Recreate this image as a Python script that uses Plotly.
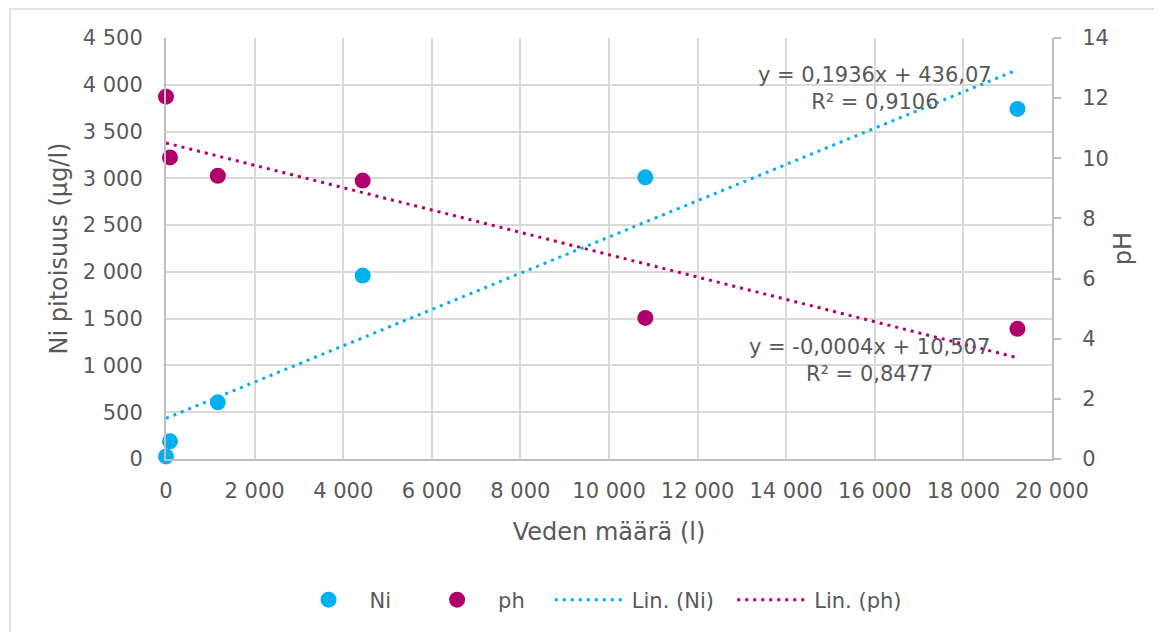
import numpy as np
import plotly.graph_objects as go

# ---- data ----
water_l = [0, 90, 1170, 4440, 10820, 19220]
ni_ug_l = [28, 189, 606, 1961, 3011, 3742]
ph_vals = [12.05, 10.03, 9.42, 9.26, 4.69, 4.33]

x_ticks = [0, 2000, 4000, 6000, 8000, 10000, 12000, 14000, 16000, 18000, 20000]
x_ticktext = ["0", "2 000", "4 000", "6 000", "8 000", "10 000", "12 000", "14 000", "16 000", "18 000", "20 000"]
y1_ticks = [0, 500, 1000, 1500, 2000, 2500, 3000, 3500, 4000, 4500]
y1_ticktext = ["0", "500", "1 000", "1 500", "2 000", "2 500", "3 000", "3 500", "4 000", "4 500"]
y2_ticks = [0, 2, 4, 6, 8, 10, 12, 14]

series_names = ["Ni", "ph", "Lin. (Ni)", "Lin. (ph)"]
ni_eq_text = "y = 0,1936x + 436,07<br>R² = 0,9106"
ph_eq_text = "y = -0,0004x + 10,507<br>R² = 0,8477"

# ---- styling ----
NI_COLOR = "#00B0F0"
PH_COLOR = "#B0006B"
TXT = "#595959"
GRID = "#D9D9D9"
AXL = "#BFBFBF"
FONT = "DejaVu Sans"
PAD3 = "\u00a0\u00a0\u00a0"  # extra spacing between legend entries
PAD2 = "\u00a0\u00a0"

# linear trendlines (least squares fit of the data)
xa = np.array(water_l, dtype=float)
ni_fit = np.polyfit(xa, np.array(ni_ug_l, dtype=float), 1)
ph_fit = np.polyfit(xa, np.array(ph_vals, dtype=float), 1)
x_line = np.array([xa.min(), xa.max()])

fig = go.Figure()
fig.add_trace(go.Scatter(x=water_l, y=ni_ug_l, mode="markers", name=series_names[0] + PAD3,
                         marker=dict(color=NI_COLOR, size=16), yaxis="y", cliponaxis=False))
fig.add_trace(go.Scatter(x=water_l, y=ph_vals, mode="markers", name=series_names[1] + PAD3,
                         marker=dict(color=PH_COLOR, size=16), yaxis="y2", cliponaxis=False))
fig.add_trace(go.Scatter(x=x_line, y=np.polyval(ni_fit, x_line), mode="lines", name=series_names[2] + PAD2,
                         line=dict(color=NI_COLOR, width=3, dash="3px,5px"), yaxis="y"))
fig.add_trace(go.Scatter(x=x_line, y=np.polyval(ph_fit, x_line), mode="lines", name=series_names[3],
                         line=dict(color=PH_COLOR, width=3, dash="3px,5px"), yaxis="y2"))

fig.add_annotation(x=16000, y=3955, xref="x", yref="y", text=ni_eq_text, showarrow=False,
                   align="center", font=dict(family=FONT, size=21, color=TXT))
fig.add_annotation(x=15880, y=1058, xref="x", yref="y", text=ph_eq_text, showarrow=False,
                   align="center", font=dict(family=FONT, size=21, color=TXT))

# outer chart border (starts at top-left, runs off the page right/bottom)
fig.add_shape(type="rect", xref="paper", yref="paper", x0=-0.176, y0=-0.45, x1=1.15, y1=1.069,
              line=dict(color=GRID, width=1.5), fillcolor="rgba(0,0,0,0)", layer="below")

fig.update_layout(
    width=1154, height=624,
    margin=dict(l=158, r=110, t=30, b=173),
    paper_bgcolor="white", plot_bgcolor="white",
    font=dict(family=FONT, size=21, color=TXT),
    showlegend=True,
    legend=dict(orientation="h", x=0.4865, xanchor="center", y=-0.335, yanchor="middle",
                itemwidth=72,
                font=dict(family=FONT, size=21, color=TXT), bgcolor="rgba(0,0,0,0)"),
    xaxis=dict(range=[0, 20000], tickvals=x_ticks, ticktext=x_ticktext,
               showgrid=True, gridcolor=GRID, gridwidth=2, zeroline=False,
               showline=True, linecolor=AXL, linewidth=2, ticks="",
               ticklabelstandoff=12,
               title=dict(text="Veden määrä (l)", font=dict(family=FONT, size=24, color=TXT), standoff=21)),
    yaxis=dict(range=[0, 4500], tickvals=y1_ticks, ticktext=y1_ticktext,
               showgrid=True, gridcolor=GRID, gridwidth=2, zeroline=False,
               showline=True, linecolor=AXL, linewidth=2, ticks="",
               ticklabelstandoff=17,
               title=dict(text="Ni pitoisuus (µg/l)", font=dict(family=FONT, size=24, color=TXT), standoff=8)),
    yaxis2=dict(range=[0, 14], tickvals=y2_ticks, overlaying="y", side="right",
                showgrid=False, zeroline=False, showline=True, linecolor=AXL, linewidth=2,
                ticks="outside", ticklen=7, tickwidth=2, tickcolor=AXL,
                ticklabelstandoff=17,
                title=dict(text="pH", font=dict(family=FONT, size=24, color=TXT), standoff=6)),
)

fig.write_html("out.html")
